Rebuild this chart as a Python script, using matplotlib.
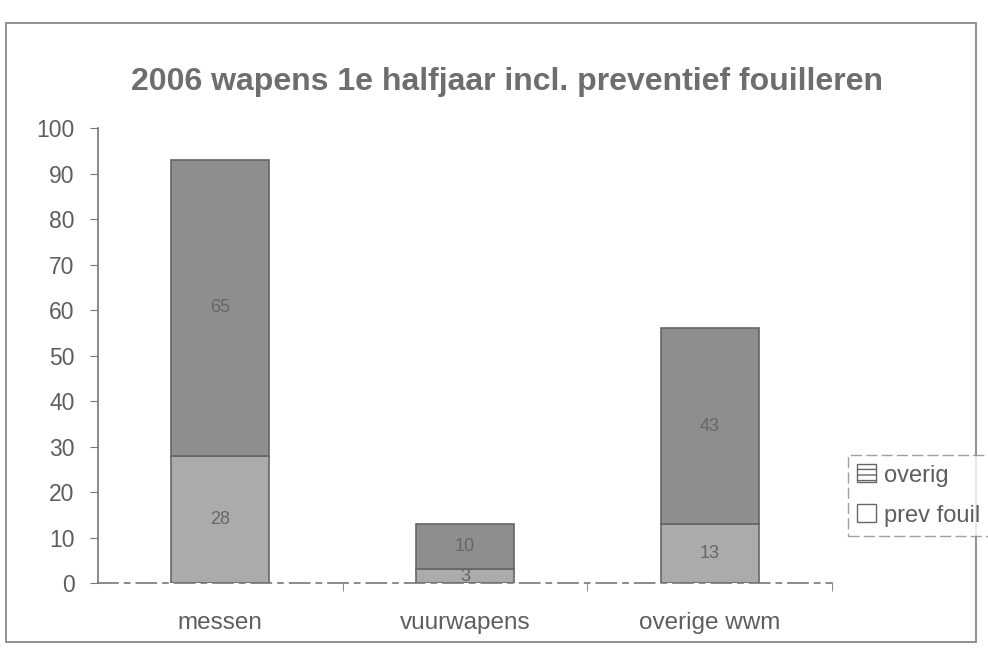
import matplotlib
matplotlib.use("Agg")
import matplotlib.pyplot as plt
from matplotlib.patches import Rectangle, Patch
import numpy as np

categories = ["messen", "vuurwapens", "overige wwm"]
prev_fouil = [28, 3, 13]
overig = [65, 10, 43]
title = "2006 wapens 1e halfjaar incl. preventief fouilleren"
yticks = list(range(0, 101, 10))

plt.rcParams['font.family'] = ['Liberation Sans', 'DejaVu Sans']
txt = '#5e5e5e'

fig = plt.figure(figsize=(9.88, 6.48), dpi=100)
fig.patch.set_facecolor('white')
ax = fig.add_axes([0.0992, 0.1003, 0.743, 0.702])

x = np.arange(len(categories))
w = 0.40
c_prev = '#ababab'
c_over = '#8e8e8e'
ax.bar(x, prev_fouil, w, color=c_prev, edgecolor='#666666', linewidth=1.2)
ax.bar(x, overig, w, bottom=prev_fouil, color=c_over, edgecolor='#666666', linewidth=1.2)

for i in range(len(categories)):
    ax.text(x[i], prev_fouil[i] / 2, str(prev_fouil[i]), ha='center', va='center',
            fontsize=13, color='#666666')
    ax.text(x[i], prev_fouil[i] + overig[i] / 2, str(overig[i]), ha='center', va='center',
            fontsize=13, color='#666666')

ax.set_xlim(-0.5, 2.5)
ax.set_ylim(0, 100)
ax.set_yticks(yticks)
ax.set_yticklabels([str(v) for v in yticks], fontsize=16.5, color=txt)
ax.set_xticks(x)
ax.set_xticklabels(categories, fontsize=17.5, color=txt)
ax.set_xticks([0.5, 1.5, 2.5], minor=True)
ax.tick_params(axis='x', which='major', length=0, pad=21)
ax.tick_params(axis='x', which='minor', length=6, color='#777777')
ax.tick_params(axis='y', length=6, color='#777777', pad=11)
for s in ['top', 'right']:
    ax.spines[s].set_visible(False)
ax.spines['left'].set_color('#777777')
ax.spines['left'].set_linewidth(1.2)
ax.spines['bottom'].set_color('#777777')
ax.spines['bottom'].set_linewidth(1.2)
ax.spines['bottom'].set_linestyle((0, (12, 4, 3, 4)))

fig.text(0.513, 0.873, title, ha='center', va='center', fontsize=23,
         fontweight='bold', color='#6e6e6e')

handles = [Patch(facecolor='white', edgecolor='#666666', hatch='---', label='overig'),
           Patch(facecolor='white', edgecolor='#666666', label='prev fouil')]
leg = fig.legend(handles=handles, loc='upper left', bbox_to_anchor=(0.858, 0.298),
                 fontsize=17, frameon=True, fancybox=False, handlelength=0.8,
                 handleheight=0.8, handletextpad=0.35, labelspacing=0.75,
                 borderpad=0.4, borderaxespad=0)
leg.get_frame().set_edgecolor('#888888')
leg.get_frame().set_linestyle((0, (8, 3)))
for t in leg.get_texts():
    t.set_color(txt)

fig.patches.append(Rectangle((0.006, 0.01), 0.982, 0.955, transform=fig.transFigure,
                             fill=False, edgecolor='#888888', linewidth=1.3))

fig.savefig('out.png', dpi=100)
